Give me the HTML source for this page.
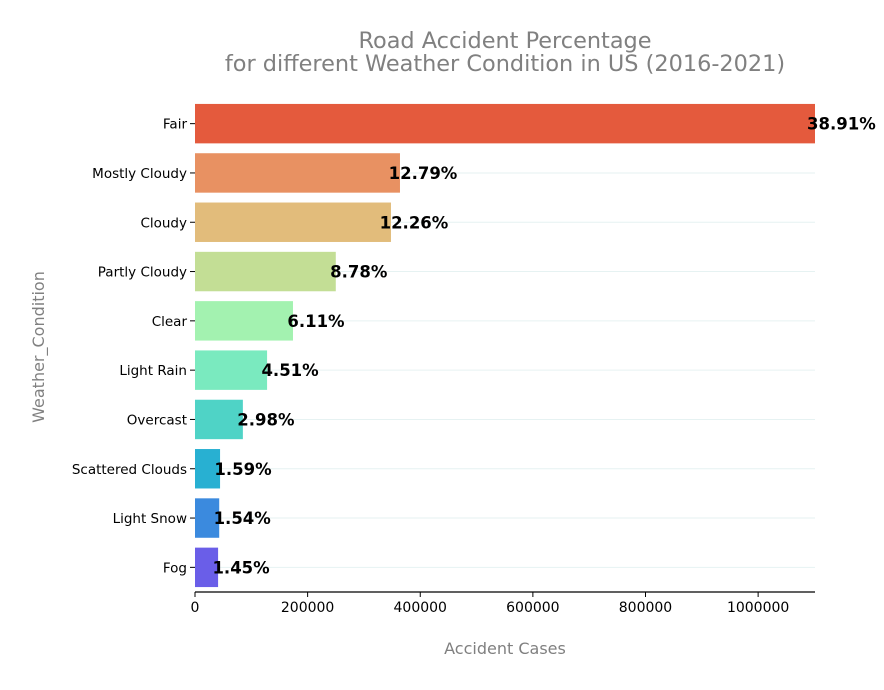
<!DOCTYPE html>
<html><head><meta charset="utf-8"><style>
body{margin:0;background:#fff;font-family:"DejaVu Sans","Liberation Sans",sans-serif}
</style></head><body>
<svg id="chart" width="884" height="686" xmlns="http://www.w3.org/2000/svg"></svg>
<script>
const categories=["Fair","Mostly Cloudy","Cloudy","Partly Cloudy","Clear","Light Rain","Overcast","Scattered Clouds","Light Snow","Fog"];
const values=[1107000,364000,348000,250000,174000,128000,85000,44500,43000,41000];
const percentLabels=["38.91%","12.79%","12.26%","8.78%","6.11%","4.51%","2.98%","1.59%","1.54%","1.45%"];
const colors=["#e45a3d","#e89162","#e2bc7b","#c3de95","#a3f2b0","#7aeabf","#4fd3c6","#28b0d2","#3b8ade","#6a5ee8"];
const xTicks=[0,200000,400000,600000,800000,1000000];
const X0=195,X1=815,XMAX=1101000,Y0=99,Y1=592;
const NS="http://www.w3.org/2000/svg";
const svg=document.getElementById("chart");
function x(v){return X0+(Math.min(v,XMAX))/XMAX*(X1-X0);}
function xr(v){return X0+v/XMAX*(X1-X0);}
const band=(Y1-Y0)/categories.length;
function yc(i){return Y0+band*(i+0.5);}
function mk(t,a,txt){const e=document.createElementNS(NS,t);for(const k in a)e.setAttribute(k,a[k]);if(txt!==undefined)e.textContent=txt;svg.appendChild(e);return e;}
let e;
e=mk("text",{x:505,y:48,"text-anchor":"middle","font-size":22.4,fill:"#808080"},"Road Accident Percentage");


e=mk("text",{x:505,y:71,"text-anchor":"middle","font-size":22.4,fill:"#808080"},"for different Weather Condition in US (2016-2021)");


categories.forEach((c,i)=>{
  e=mk("line",{x1:X0,x2:X1,y1:yc(i),y2:yc(i),stroke:"#e6f2f2","stroke-width":1});
  
  
});
categories.forEach((c,i)=>{
  const h=band*0.8;
  e=mk("rect",{x:X0,y:yc(i)-h/2,width:x(values[i])-X0,height:h,fill:colors[i]});
  
  
  e=mk("line",{x1:X0-5,x2:X0,y1:yc(i),y2:yc(i),stroke:"#000"});
  
  
  e=mk("text",{x:X0-8,y:yc(i)+5,"text-anchor":"end","font-size":13.5,fill:"#000"},c);
  
  
  e=mk("text",{x:xr(values[i])+23,y:yc(i)+6,"text-anchor":"middle","font-size":16.5,"font-weight":"bold",fill:"#000"},percentLabels[i]);
  
  
});
e=mk("line",{x1:X0,x2:X1,y1:Y1,y2:Y1,stroke:"#000","stroke-width":1.2});


xTicks.forEach(t=>{
  e=mk("line",{x1:x(t),x2:x(t),y1:Y1,y2:Y1+5,stroke:"#000"});
  
  
  e=mk("text",{x:x(t),y:612,"text-anchor":"middle","font-size":14,fill:"#000"},String(t));
  
  
});
e=mk("text",{x:505,y:654,"text-anchor":"middle","font-size":16,fill:"#808080"},"Accident Cases");


e=mk("text",{x:44,y:347,"text-anchor":"middle","font-size":16,fill:"#808080",transform:"rotate(-90 44 347)"},"Weather_Condition");


</script>
</body></html>
